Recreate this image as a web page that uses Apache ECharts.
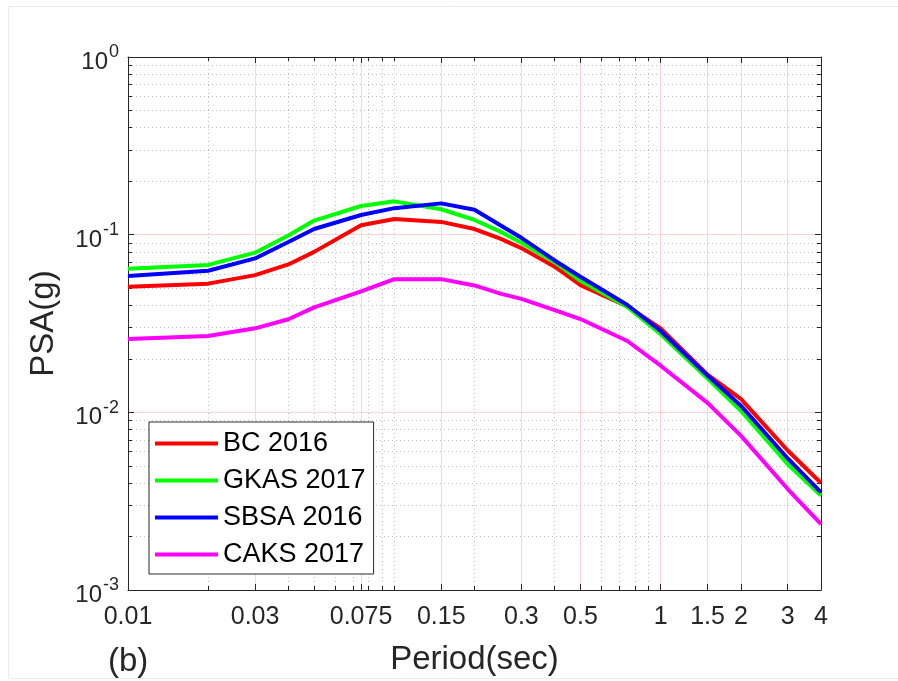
<!DOCTYPE html>
<html>
<head>
<meta charset="utf-8">
<script src="https://cdn.jsdelivr.net/npm/echarts@6/dist/echarts.min.js"></script>
<style>
  html, body { margin: 0; padding: 0; background: #ffffff; }
  #chart { width: 898px; height: 681px; }
</style>
</head>
<body>
<div id="chart"></div>
<script>
// Response spectra: periods (s) and pseudo-spectral acceleration (g)
const periods  = [0.01, 0.02, 0.03, 0.04, 0.05, 0.075, 0.1, 0.15, 0.2, 0.25, 0.3, 0.4, 0.5, 0.75, 1, 1.5, 2, 3, 4];
const bc2016   = [0.0509, 0.053, 0.0592, 0.068, 0.080, 0.113, 0.1225, 0.118, 0.1076, 0.095, 0.084, 0.066, 0.052, 0.0395, 0.0297, 0.0163, 0.0119, 0.0061, 0.0040];
const gkas2017 = [0.0643, 0.0676, 0.0792, 0.099, 0.120, 0.145, 0.154, 0.139, 0.121, 0.104, 0.090, 0.070, 0.055, 0.0392, 0.0275, 0.0155, 0.0102, 0.0051, 0.0034];
const sbsa2016 = [0.0585, 0.0626, 0.0735, 0.091, 0.1076, 0.129, 0.141, 0.150, 0.138, 0.113, 0.096, 0.0716, 0.058, 0.0402, 0.0287, 0.0161, 0.0109, 0.0055, 0.00354];
const caks2017 = [0.0259, 0.0269, 0.0297, 0.0334, 0.039, 0.048, 0.0562, 0.0562, 0.0518, 0.0466, 0.0435, 0.0376, 0.0335, 0.0252, 0.0183, 0.0113, 0.0074, 0.0037, 0.00235];

const seriesNames  = ['BC 2016', 'GKAS 2017', 'SBSA 2016', 'CAKS 2017'];
const seriesColors = ['#ff0000', '#00ff00', '#0000ff', '#ff00ff'];

// Axis ticks
const xTicks      = [0.01, 0.03, 0.075, 0.15, 0.3, 0.5, 1, 1.5, 2, 3, 4];
const xTickLabels = ['0.01', '0.03', '0.075', '0.15', '0.3', '0.5', '1', '1.5', '2', '3', '4'];
const xMinor      = [0.02, 0.04, 0.05, 0.06, 0.07, 0.08, 0.09, 0.1, 0.2, 0.4, 0.6, 0.7, 0.8, 0.9];
const yTicks      = [0.001, 0.01, 0.1, 1];
const yTickExps   = ['-3', '-2', '-1', '0'];
const yMinor = [];
[0.001, 0.01, 0.1].forEach(function (d) {
  for (let k = 2; k <= 9; k++) yMinor.push(+(k * d).toPrecision(3));
});

const FONT = 'Liberation Sans, Arial, Helvetica, sans-serif';
const AX = '#262626';
const MAJOR_GRID = '#ffd3d3';
const MINOR_GRID = '#c0c0c0';

function indexOfTick(list, v) {
  for (let i = 0; i < list.length; i++) {
    if (Math.abs(list[i] - v) <= list[i] * 1e-6) return i;
  }
  return -1;
}

function xAxisDef(position, values, isMajor) {
  const withLabels = position === 'bottom' && isMajor;
  const def = {
    type: 'log', logBase: 10, min: 0.01, max: 4, position: position,
    axisLine: { show: isMajor, onZero: false, lineStyle: { color: AX, width: 1 } },
    axisTick: { show: true, inside: true, length: isMajor ? 6 : 4, customValues: values, lineStyle: { color: AX, width: 1 } },
    axisLabel: { show: withLabels, customValues: values },
    splitLine: { show: position === 'bottom', lineStyle: isMajor ? { color: MAJOR_GRID, width: 1 } : { color: MINOR_GRID, width: 1, type: [1, 3] } },
    minorTick: { show: false }, minorSplitLine: { show: false }
  };
  if (withLabels) {
    def.axisLabel = {
      show: true, customValues: values, color: AX, fontSize: 25, fontFamily: FONT, margin: 15,
      formatter: function (v) { const i = indexOfTick(xTicks, v); return i >= 0 ? xTickLabels[i] : ''; }
    };
    def.name = 'Period(sec)';
    def.nameLocation = 'middle';
    def.nameGap = 53;
    def.nameTextStyle = { color: AX, fontSize: 33, fontFamily: FONT };
  }
  return def;
}

function yAxisDef(position, values, isMajor) {
  const withLabels = position === 'left' && isMajor;
  const def = {
    type: 'log', logBase: 10, min: 0.001, max: 1, position: position,
    axisLine: { show: isMajor, onZero: false, lineStyle: { color: AX, width: 1 } },
    axisTick: { show: true, inside: true, length: isMajor ? 6 : 4, customValues: values, lineStyle: { color: AX, width: 1 } },
    axisLabel: { show: withLabels, customValues: values },
    splitLine: { show: position === 'left', lineStyle: isMajor ? { color: MAJOR_GRID, width: 1 } : { color: MINOR_GRID, width: 1, type: [1, 3] } },
    minorTick: { show: false }, minorSplitLine: { show: false }
  };
  if (withLabels) {
    def.axisLabel = {
      show: true, customValues: values, margin: 9,
      formatter: function (v) {
        const i = indexOfTick(yTicks, v);
        return i >= 0 ? '{b|10}{s|' + yTickExps[i] + '}' : '';
      },
      rich: {
        b: { fontSize: 24, fontFamily: FONT, color: AX, lineHeight: 24, padding: [11, 1, 0, 0] },
        s: { fontSize: 18, fontFamily: FONT, color: AX, lineHeight: 18, padding: [0, 0, 9, 0] }
      }
    };
    def.name = 'PSA(g)';
    def.nameLocation = 'middle';
    def.nameGap = 68;
    def.nameTextStyle = { color: AX, fontSize: 33, fontFamily: FONT };
  }
  return def;
}

const sources = [bc2016, gkas2017, sbsa2016, caks2017];
const series = sources.map(function (vals, k) {
  return {
    name: seriesNames[k], type: 'line',
    xAxisIndex: 0, yAxisIndex: 0,
    data: periods.map(function (p, i) { return [p, vals[i]]; }),
    showSymbol: false, symbol: 'none', smooth: false,
    lineStyle: { color: seriesColors[k], width: 4 },
    itemStyle: { color: seriesColors[k] },
    z: 3 + k
  };
});

const chart = echarts.init(document.getElementById('chart'), null, { renderer: 'canvas' });
chart.setOption({
  backgroundColor: '#ffffff',
  animation: false,
  grid: { left: 128, top: 57, right: 77, bottom: 88, containLabel: false },
  xAxis: [
    xAxisDef('bottom', xMinor, false),
    xAxisDef('bottom', xTicks, true),
    xAxisDef('top', xMinor, false),
    xAxisDef('top', xTicks, true)
  ],
  yAxis: [
    yAxisDef('left', yMinor, false),
    yAxisDef('left', yTicks, true),
    yAxisDef('right', yMinor, false),
    yAxisDef('right', yTicks, true)
  ],
  legend: {
    orient: 'vertical', left: 149, top: 422,
    data: seriesNames,
    icon: 'rect', itemWidth: 63, itemHeight: 4, itemGap: 6,
    padding: [6, 8, 4, 6],
    backgroundColor: '#ffffff', borderColor: AX, borderWidth: 1,
    textStyle: { color: '#000000', fontSize: 27, fontFamily: FONT, lineHeight: 31 }
  },
  graphic: [
    { type: 'rect', silent: true, z: -10,
      shape: { x: 8.5, y: 6.5, width: 900, height: 672 },
      style: { fill: 'none', stroke: '#ececec', lineWidth: 1 } },
    { type: 'text', left: 108, top: 645,
      style: { text: '(b)', font: '33px ' + FONT, fill: AX } }
  ],
  series: series
});
</script>
</body>
</html>
